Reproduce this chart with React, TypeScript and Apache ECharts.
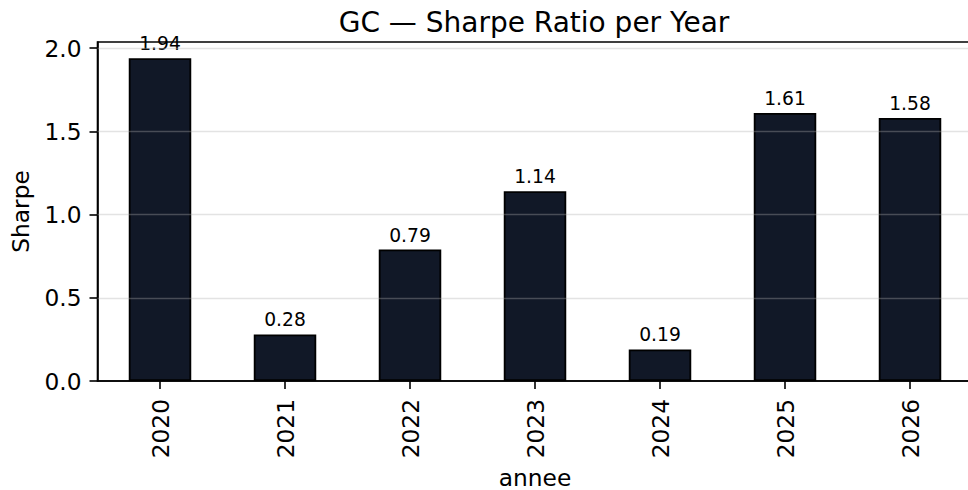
import React, { useEffect, useRef } from "react";
import * as echarts from "echarts";

const categories = ["2020", "2021", "2022", "2023", "2024", "2025", "2026"];
const sharpeValues = [1.94, 0.28, 0.79, 1.14, 0.19, 1.61, 1.58];
const yTicks = [0, 0.5, 1.0, 1.5, 2.0];
const gridValues = [0.5, 1.0, 1.5, 2.0];
const titleText = "GC — Sharpe Ratio per Year";
const xName = "annee";
const yName = "Sharpe";

const FONT = "DejaVu Sans";

export default function App() {
  const ref = useRef<HTMLDivElement>(null);
  useEffect(() => {
    if (!ref.current) return;
    const chart = echarts.init(ref.current, null, { renderer: "svg" });
    chart.setOption({
      animation: false,
      backgroundColor: "#ffffff",
      textStyle: { fontFamily: FONT },
      title: {
        text: titleText,
        left: 529,
        textAlign: "center",
        top: 3,
        textStyle: { fontFamily: FONT, fontSize: 28, fontWeight: "normal", color: "#000" },
      },
      grid: {
        left: 97.5,
        top: 42,
        width: 875,
        height: 339,
        outerBoundsMode: "none",
        containLabel: false,
        show: true,
        borderColor: "#000",
        borderWidth: 1.6,
        backgroundColor: "transparent",
      },
      xAxis: {
        type: "category",
        data: categories,
        boundaryGap: true,
        name: xName,
        nameLocation: "middle",
        nameGap: 84,
        nameTextStyle: { fontFamily: FONT, fontSize: 23.3, color: "#000" },
        axisLine: { show: true, lineStyle: { color: "#000", width: 1.6 } },
        axisTick: { show: true, alignWithLabel: true, length: 8, lineStyle: { color: "#000", width: 1.6 } },
        axisLabel: { rotate: 90, fontFamily: FONT, fontSize: 23.3, color: "#000", margin: 18 },
        splitLine: { show: false },
      },
      yAxis: {
        type: "value",
        min: 0,
        max: 2.037,
        interval: 0.5,
        name: yName,
        nameLocation: "middle",
        nameGap: 66,
        nameRotate: 90,
        nameTextStyle: { fontFamily: FONT, fontSize: 23.3, color: "#000" },
        axisLine: { show: true, lineStyle: { color: "#000", width: 1.6 } },
        axisTick: { show: true, length: 8, customValues: yTicks, lineStyle: { color: "#000", width: 1.6 } },
        axisLabel: {
          fontFamily: FONT,
          fontSize: 23.3,
          color: "#000",
          margin: 16,
          customValues: yTicks,
          formatter: (v: number) => v.toFixed(1),
        },
        splitLine: { show: false },
      },
      series: [
        {
          type: "bar",
          data: sharpeValues,
          barWidth: "50%",
          itemStyle: { color: "#111827", borderColor: "#000", borderWidth: 1.8 },
          label: {
            show: true,
            position: "top",
            distance: 5,
            fontFamily: FONT,
            fontSize: 18.7,
            color: "#000",
            formatter: (p: any) => Number(p.value).toFixed(2),
          },
          markLine: {
            silent: true,
            symbol: ["none", "none"],
            label: { show: false },
            lineStyle: { color: "rgba(176,176,176,0.35)", type: "solid", width: 1.3 },
            data: gridValues.map((v) => ({ yAxis: v })),
          },
        },
      ],
    });
    return () => chart.dispose();
  }, []);
  return (
    <div
      ref={ref}
      style={{ position: "fixed", left: 0, top: 0, width: 968, height: 490 }}
    />
  );
}
